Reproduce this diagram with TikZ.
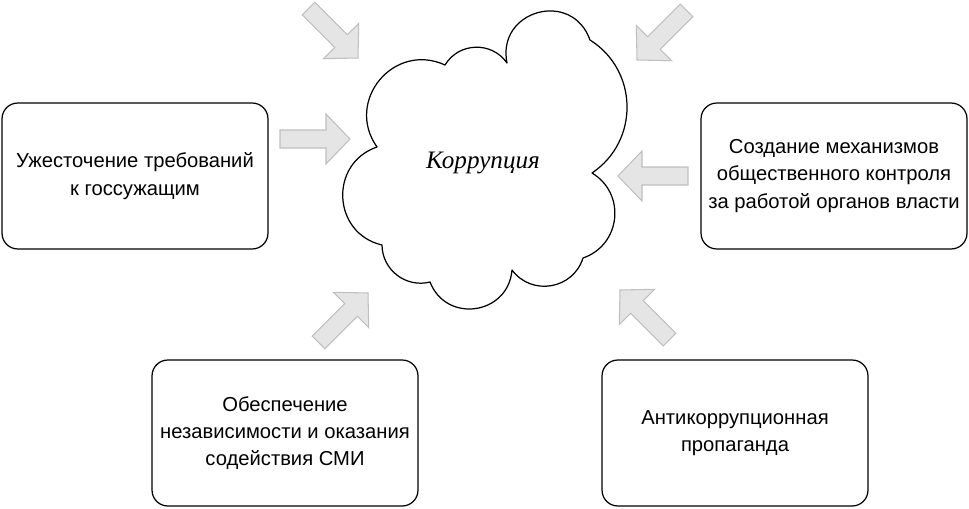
\documentclass[tikz,border=0pt]{standalone}
\usepackage{fontspec}
\setmainfont{Liberation Sans}
\newfontfamily\serifru{Liberation Serif}
\tikzset{
	mera/.style={draw, rounded corners=9pt, line width=0.7pt, minimum width=5.32cm, minimum height=2.92cm, align=center, font=\fontsize{11.5}{15.5}\selectfont},
	strelkastyle/.style={draw=gray!50, fill=gray!20, line width=0.6pt, line join=miter},
	strelka/.pic={\draw[strelkastyle] (0,0)--(-24,25)--(-24,9)--(-70,9)--(-70,-9)--(-24,-9)--(-24,-25)--cycle;}
}
\begin{document}
\begin{tikzpicture}[x=0.02cm,y=0.02cm,line join=round,line cap=round]
	\useasboundingbox (0,0) rectangle (969,508);
	%Облако
	\draw[line width=0.7pt]
	(507,445) to[bend left=86,looseness=1.6] (590,468)
	to[bend left=57,looseness=1.1] (592,335)
	to[bend left=65,looseness=1.2] (583,250)
	to[bend left=63,looseness=1.17] (512,238)
	to[bend left=77,looseness=1.39] (430,226)
	to[bend left=52,looseness=1.05] (382,263)
	to[bend left=74,looseness=1.33] (377,361)
	to[bend left=75,looseness=1.35] (445,443)
	to[bend left=57,looseness=1.1] (507,445);
	\node[font=\serifru\itshape\fontsize{14.3}{17}\selectfont, anchor=base] (korr) at (483,340) {Коррупция};
	%Блоки
	\node[mera] (trebovaniya) at (135,332) {Ужесточение требований\\к госсужащим};
	\node[mera] (kontrol) at (834,332) {Создание механизмов\\общественного контроля\\за работой органов власти};
	\node[mera] (smi) at (285,75) {Обеспечение\\независимости и оказания\\содействия СМИ};
	\node[mera] (propaganda) at (735,75) {Антикоррупционная\\пропаганда};
	%Стрелки
	\pic[rotate=-45] (s1) at (358,450) {strelka};
	\pic[rotate=-135] (s2) at (637,448) {strelka};
	\pic (s3) at (350,369) {strelka};
	\pic[rotate=180] (s4) at (618,332) {strelka};
	\pic[rotate=45] (s5) at (368,215) {strelka};
	\pic[rotate=135] (s6) at (620,218) {strelka};
\end{tikzpicture}
\end{document}
